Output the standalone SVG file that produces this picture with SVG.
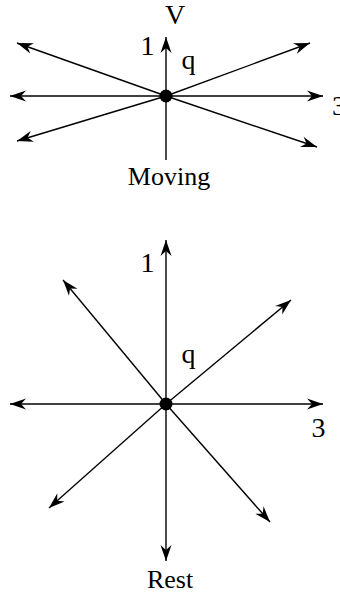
<svg xmlns="http://www.w3.org/2000/svg" width="340" height="594" viewBox="0 0 340 594">
  <style>
    .ax { stroke: #000; stroke-width: 1.4; fill: none; marker-end: url(#ah); }
    .lb { font-family: "Liberation Serif", "Times New Roman", serif; fill: #000; text-anchor: middle; }
    .big { font-size: 28px; }
    .cap { font-size: 26px; }
  </style>
  <defs>
    <marker id="ah" markerUnits="userSpaceOnUse" viewBox="-17 -7 18 14" markerWidth="18" markerHeight="14" refX="0" refY="0" orient="auto">
      <path d="M0,0 L-16,-5.5 L-11,0 L-16,5.5 Z" fill="#000"/>
    </marker>
  </defs>
  <rect width="340" height="594" fill="#fff"/>
  <g id="connectors">
    <!-- Moving -->
    <path class="ax" d="M166,96 L166,37"/>
    <path class="ax" d="M166,96 L166,160" style="marker-end:none"/>
    <path class="ax" d="M166,96 L10,96"/>
    <path class="ax" d="M166,96 L323,96"/>
    <path class="ax" d="M166,96 L17,43"/>
    <path class="ax" d="M166,96 L317,147"/>
    <path class="ax" d="M166,96 L310,43"/>
    <path class="ax" d="M166,96 L17,141"/>
    <!-- Rest -->
    <path class="ax" d="M166,404 L166,240"/>
    <path class="ax" d="M166,404 L166,561"/>
    <path class="ax" d="M166,404 L10,404"/>
    <path class="ax" d="M166,404 L323,404"/>
    <path class="ax" d="M166,404 L63,280"/>
    <path class="ax" d="M166,404 L270,522"/>
    <path class="ax" d="M166,404 L291,300"/>
    <path class="ax" d="M166,404 L49,508"/>
  </g>
  <g id="moving">
    <circle cx="166" cy="96" r="6.5" fill="#000"/>
    <text class="lb big" x="175" y="24">V</text>
    <text class="lb big" x="147.5" y="55">1</text>
    <text class="lb big" x="188.5" y="69">q</text>
    <text class="lb big" x="339" y="115">3</text>
    <text class="lb cap" x="169" y="185">Moving</text>
  </g>
  <g id="rest">
    <circle cx="166" cy="404" r="6.5" fill="#000"/>
    <text class="lb big" x="147.5" y="272">1</text>
    <text class="lb big" x="188.5" y="363">q</text>
    <text class="lb big" x="318.5" y="437">3</text>
    <text class="lb cap" x="170" y="588">Rest</text>
  </g>
</svg>
